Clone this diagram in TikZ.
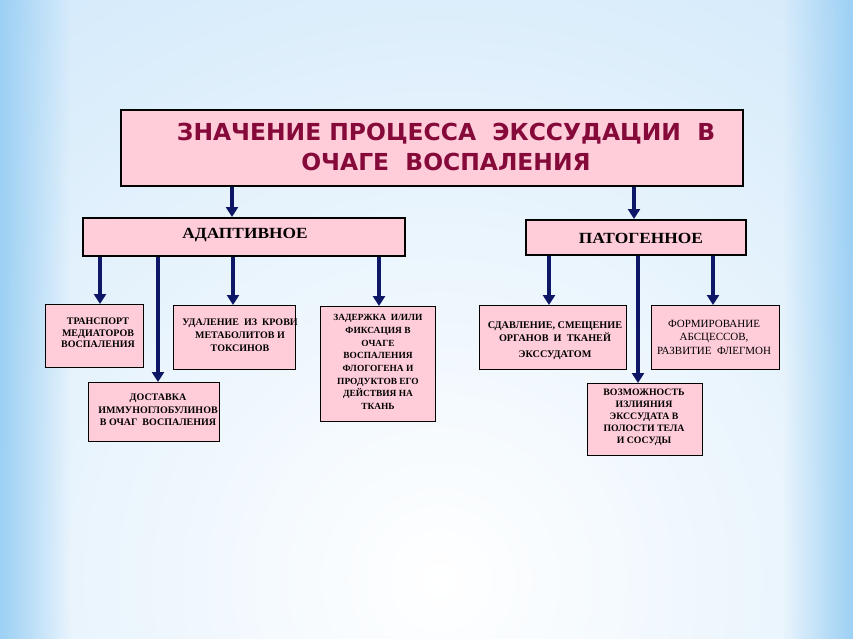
\documentclass[tikz,border=0pt]{standalone}
\usepackage{fontspec}
\setmainfont{Liberation Serif}
\newfontfamily\titlefont{DejaVu Sans}
\newfontfamily\hdrfont{Liberation Serif}[FakeStretch=1.12]
\usetikzlibrary{arrows.meta,fadings}
\definecolor{bgblue}{HTML}{D0E8FA}
\definecolor{edgeblue}{HTML}{9CD0F4}
\definecolor{boxpink}{HTML}{FFCCDA}
\definecolor{titlered}{HTML}{850A3A}
\definecolor{arrnavy}{HTML}{0E1766}
\tikzfading[name=fadeR, left color=transparent!0, right color=transparent!100]
\tikzfading[name=fadeL, left color=transparent!100, right color=transparent!0]
\tikzset{
  pinkbox/.style={draw=black, line width=1.3pt, fill=boxpink, rectangle, anchor=north west, inner sep=0pt},
  txt/.style={align=center, inner sep=0pt, font=\fontsize{10}{11.7}\selectfont\bfseries},
  hdr/.style={inner sep=0pt, font=\hdrfont\fontsize{15.5}{18}\selectfont\bfseries},
  arr/.style={draw=arrnavy, line width=3.6pt, -{Triangle[length=10pt,width=12pt]}},
}
\begin{document}
\begin{tikzpicture}[x=1pt,y=-1pt]
\useasboundingbox (0,0) rectangle (853,639);
% background
\fill[bgblue] (0,0) rectangle (853,639);
\begin{scope}
\clip (0,0) rectangle (853,639);
\shade[inner color=white, outer color=bgblue] (440,580) circle (780);
\fill[edgeblue, path fading=fadeR] (0,0) rectangle (70,639);
\fill[edgeblue, path fading=fadeL] (783,0) rectangle (853,639);
\end{scope}

% boxes
\node[pinkbox, line width=2.4pt, minimum width=622pt, minimum height=76pt] (title) at (120,109) {};
\node[text=titlered, font=\titlefont\fontsize{23.4}{30}\selectfont\bfseries, align=center, inner sep=0pt] (titletxt) at (446,147)
  {ЗНАЧЕНИЕ ПРОЦЕССА \ ЭКССУДАЦИИ \ В\\ОЧАГЕ \ ВОСПАЛЕНИЯ};

\node[pinkbox, line width=2pt, minimum width=322pt, minimum height=38pt] (adapt) at (82,217) {};
\node[hdr] (adapttxt) at (245,235) {АДАПТИВНОЕ};
\node[pinkbox, line width=2pt, minimum width=220pt, minimum height=35pt] (pato) at (525,219) {};
\node[hdr] (patotxt) at (641,238) {ПАТОГЕННОЕ};

\node[pinkbox, minimum width=98pt, minimum height=63pt] (transp) at (45,304) {};
\node[txt] (transptxt) at (98,333) {ТРАНСПОРТ\\МЕДИАТОРОВ\\ВОСПАЛЕНИЯ};

\node[pinkbox, minimum width=131pt, minimum height=59pt] (dost) at (88,382) {};
\node[txt, font=\fontsize{10}{12.5}\selectfont\bfseries] (dosttxt) at (158,410)
  {ДОСТАВКА\\ИММУНОГЛОБУЛИНОВ\\В ОЧАГ \ ВОСПАЛЕНИЯ};

\node[pinkbox, minimum width=122pt, minimum height=64pt] (udal) at (173,305) {};
\node[txt, font=\fontsize{10}{13}\selectfont\bfseries] (udaltxt) at (240,335) {УДАЛЕНИЕ \ ИЗ \ КРОВИ\\МЕТАБОЛИТОВ И\\ТОКСИНОВ};

\node[pinkbox, minimum width=115pt, minimum height=115pt] (zad) at (320,306) {};
\node[txt, font=\fontsize{9.4}{12.7}\selectfont\bfseries] (zadtxt) at (378,362)
  {ЗАДЕРЖКА \ И/ИЛИ\\ФИКСАЦИЯ В\\ОЧАГЕ\\ВОСПАЛЕНИЯ\\ФЛОГОГЕНА И\\ПРОДУКТОВ ЕГО\\ДЕЙСТВИЯ НА\\ТКАНЬ};

\node[pinkbox, minimum width=147pt, minimum height=64pt] (sdav) at (479,305) {};
\node[txt, font=\fontsize{10.2}{13}\selectfont\bfseries] (sdavtxt) at (555,341) {СДАВЛЕНИЕ, СМЕЩЕНИЕ\\ОРГАНОВ \ И \ ТКАНЕЙ\\[3pt]ЭКССУДАТОМ};

\node[pinkbox, minimum width=128pt, minimum height=64pt] (form) at (651,305) {};
\node[txt, font=\fontsize{11}{13.5}\selectfont] (formtxt) at (714,337) {ФОРМИРОВАНИЕ\\АБСЦЕССОВ,\\РАЗВИТИЕ \ ФЛЕГМОН};

\node[pinkbox, minimum width=115pt, minimum height=72pt] (vozm) at (587,383) {};
\node[txt, font=\fontsize{9.8}{12}\selectfont\bfseries] (vozmtxt) at (644,417) {ВОЗМОЖНОСТЬ\\ИЗЛИЯНИЯ\\ЭКССУДАТА В\\ПОЛОСТИ ТЕЛА\\И СОСУДЫ};

% arrow x positions
\coordinate (xa) at (232,0);
\coordinate (xp) at (634,0);
\coordinate (x1) at (100,0);
\coordinate (x2) at (158,0);
\coordinate (x3) at (233,0);
\coordinate (x4) at (379,0);
\coordinate (x5) at (549,0);
\coordinate (x6) at (638,0);
\coordinate (x7) at (713,0);

\draw[arr] (title.south -| xa) -- (adapt.north -| xa);
\draw[arr] (title.south -| xp) -- (pato.north -| xp);
\draw[arr] (adapt.south -| x1) -- (transp.north -| x1);
\draw[arr] (adapt.south -| x2) -- (dost.north -| x2);
\draw[arr] (adapt.south -| x3) -- (udal.north -| x3);
\draw[arr] (adapt.south -| x4) -- (zad.north -| x4);
\draw[arr] (pato.south -| x5) -- (sdav.north -| x5);
\draw[arr] (pato.south -| x6) -- (vozm.north -| x6);
\draw[arr] (pato.south -| x7) -- (form.north -| x7);
\end{tikzpicture}
\end{document}
